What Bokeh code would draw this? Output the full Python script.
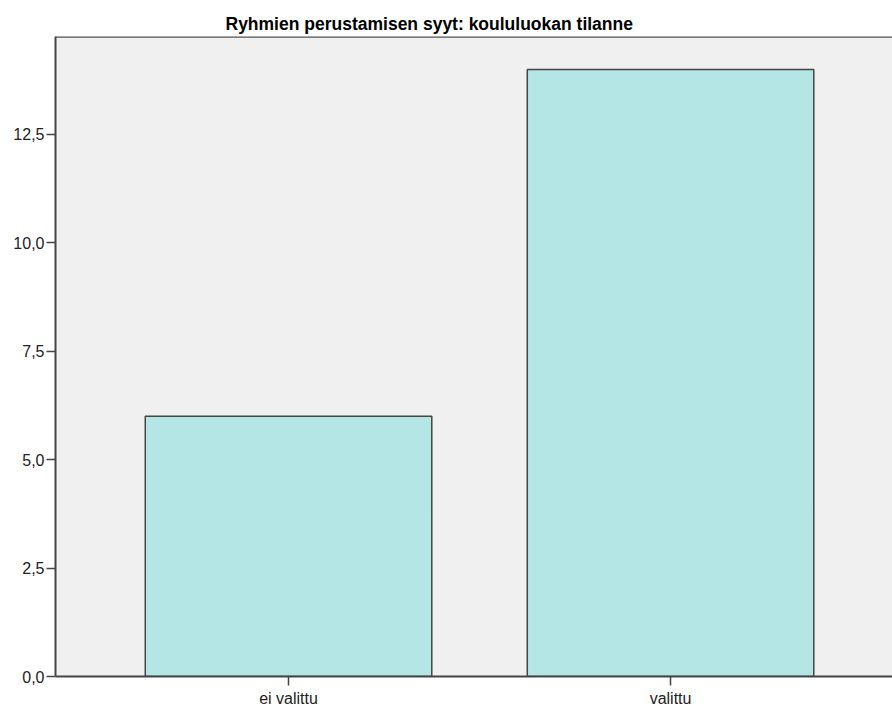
from bokeh.plotting import figure
from bokeh.models import Range1d, FixedTicker, Span, Title
from bokeh.embed import file_html
from bokeh.resources import INLINE

title_text = "Ryhmien perustamisen syyt: koululuokan tilanne"
categories = ["ei valittu", "valittu"]
counts = [6, 14]
y_ticks = [0, 2.5, 5, 7.5, 10, 12.5]
y_tick_labels = ["0,0", "2,5", "5,0", "7,5", "10,0", "12,5"]

x_pos = [i + 0.5 for i in range(len(categories))]

Y_MAX = 14.76
p = figure(width=892, height=709, output_backend="svg", toolbar_location=None,
           x_range=Range1d(-0.11, 2.081), y_range=Range1d(0, Y_MAX),
           min_border_left=55, min_border_right=0, min_border_top=36, min_border_bottom=33)
p.title = None
t = Title(text=title_text, align="left", offset=170, text_font="Liberation Sans",
          text_font_size="17.5px", text_font_style="bold", text_color="#000000",
          standoff=6)
p.add_layout(t, "above")

p.background_fill_color = "#f0f0f0"
p.border_fill_color = "#ffffff"
p.outline_line_color = None
p.grid.visible = False

p.vbar(x=x_pos, top=counts, width=0.75, fill_color="#b4e6e6",
       line_color="#454545", line_width=1.5)

p.add_layout(Span(location=Y_MAX, dimension="width", line_color="#555555", line_width=2.5))

for ax in (p.xaxis[0], p.yaxis[0]):
    ax.axis_line_color = "#444444"
    ax.axis_line_width = 2
    ax.major_tick_line_color = "#444444"
    ax.major_tick_line_width = 1.5
    ax.major_tick_out = 9
    ax.major_tick_in = 0
    ax.minor_tick_line_color = None
    ax.major_label_text_font = "Liberation Sans"
    ax.major_label_text_font_size = "16px"
    ax.major_label_text_color = "#222222"

p.yaxis.ticker = FixedTicker(ticks=y_ticks)
p.yaxis.major_label_overrides = {v: l for v, l in zip(y_ticks, y_tick_labels)}
p.yaxis.major_label_standoff = 2
p.xaxis.ticker = FixedTicker(ticks=x_pos)
p.xaxis.major_label_overrides = {x: c for x, c in zip(x_pos, categories)}
p.xaxis.major_label_standoff = 4

open("out.html", "w").write(file_html(p, INLINE))
